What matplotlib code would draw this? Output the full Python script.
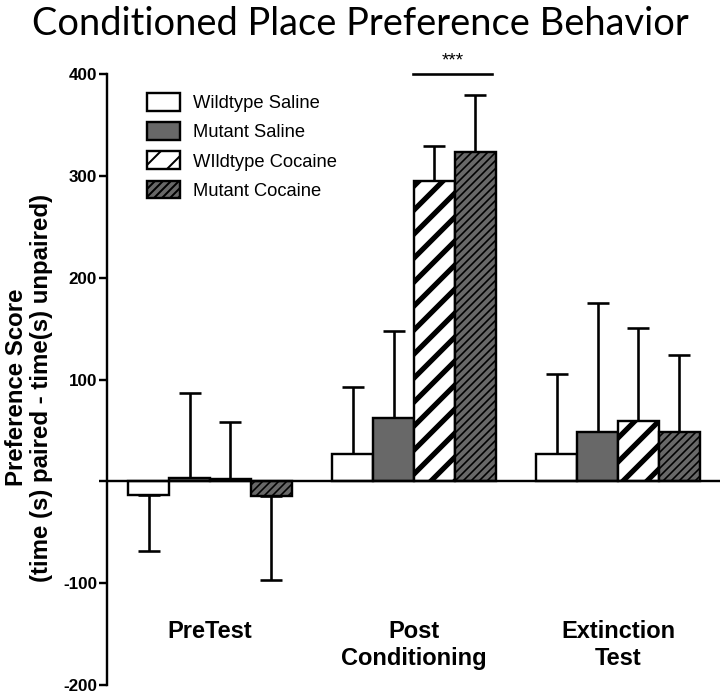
import matplotlib
matplotlib.use("Agg")
import matplotlib.pyplot as plt
import numpy as np

groups = ["PreTest", "Post\nConditioning", "Extinction\nTest"]
series = ["Wildtype Saline", "Mutant Saline", "WIldtype Cocaine", "Mutant Cocaine"]
means = {
    "Wildtype Saline": [-13, 27, 27],
    "Mutant Saline": [3, 62, 48],
    "WIldtype Cocaine": [2, 295, 59],
    "Mutant Cocaine": [-14, 323, 48],
}
errs = {
    "Wildtype Saline": [55, 66, 78],
    "Mutant Saline": [84, 86, 127],
    "WIldtype Cocaine": [56, 34, 92],
    "Mutant Cocaine": [83, 56, 76],
}
yticks = [-200, -100, 0, 100, 200, 300, 400]
yticklabels = ["-200", "-100", "", "100", "200", "300", "400"]

styles = {
    "Wildtype Saline": dict(color="white", hatch=None, hlw=1.0),
    "Mutant Saline": dict(color="#686868", hatch=None, hlw=1.0),
    "WIldtype Cocaine": dict(color="white", hatch="//", hlw=2.6),
    "Mutant Cocaine": dict(color="#686868", hatch="//////", hlw=0.8),
}

plt.rcParams['font.family'] = ['Liberation Sans', 'DejaVu Sans']
DPI = 144
fig = plt.figure(figsize=(720 / DPI, 694 / DPI), dpi=DPI)
ax = fig.add_axes([107 / 720, 9 / 694, 1 - 107 / 720, (685 - 74) / 694])

x = np.arange(len(groups))
w = 0.2
handles = []
for i, s in enumerate(series):
    st = styles[s]
    pos = x + (i - 1.5) * w
    with plt.rc_context({'hatch.linewidth': st['hlw'], 'hatch.color': 'black'}):
        bars = ax.bar(pos, means[s], width=w, color=st['color'], edgecolor='black',
                      linewidth=1.2, hatch=st['hatch'], zorder=3, label=s)
        for b in bars:
            try:
                b.set_hatch_linewidth(st['hlw'])
            except Exception:
                pass
    handles.append(bars)
    m = np.array(means[s])
    e = np.array(errs[s])
    lower = np.where(m < 0, e, 0)
    upper = np.where(m >= 0, e, 0)
    ax.errorbar(pos, m, yerr=[lower, upper], fmt='none', ecolor='black',
                elinewidth=1.3, capsize=5.5, capthick=1.3, zorder=2)

ax.axhline(0, color='black', lw=1.2, zorder=4)
ax.set_xlim(-0.505, 2.5)
ax.set_ylim(-200, 400)
ax.set_yticks(yticks)
ax.set_yticklabels(yticklabels, fontweight='bold', fontsize=8.5)
ax.tick_params(axis='y', direction='out', length=4, width=1.2, pad=1)
ax.set_xticks([])
for sp in ['top', 'right', 'bottom']:
    ax.spines[sp].set_visible(False)
ax.spines['left'].set_linewidth(1.2)

ax.set_ylabel("Preference Score\n(time (s) paired - time(s) unpaired)",
              fontweight='bold', fontsize=12, linespacing=1.1)
ax.yaxis.set_label_coords(-0.088, 0.487)

for xi, g in zip(x, groups):
    ax.text(xi, -136, g, ha='center', va='top', fontweight='bold', fontsize=11.8,
            linespacing=1.25)

# significance bar
ax.plot([0.995, 1.38], [400, 400], color='black', lw=1.3, clip_on=False)
ax.text(1.19, 404, "***", ha='center', va='bottom', fontsize=9.5, clip_on=False)

fig.text(0.5, 0.992, "Conditioned Place Preference Behavior", ha='center', va='top',
         fontsize=19, family=['Lato', 'DejaVu Sans'])

ax.legend(handles=handles, labels=series, loc='upper left',
          bbox_to_anchor=(0.039, 0.996), frameon=False, fontsize=9.2,
          handlelength=1.75, handleheight=1.1, labelspacing=0.55, handletextpad=0.7)

fig.savefig("out.png", dpi=DPI)
